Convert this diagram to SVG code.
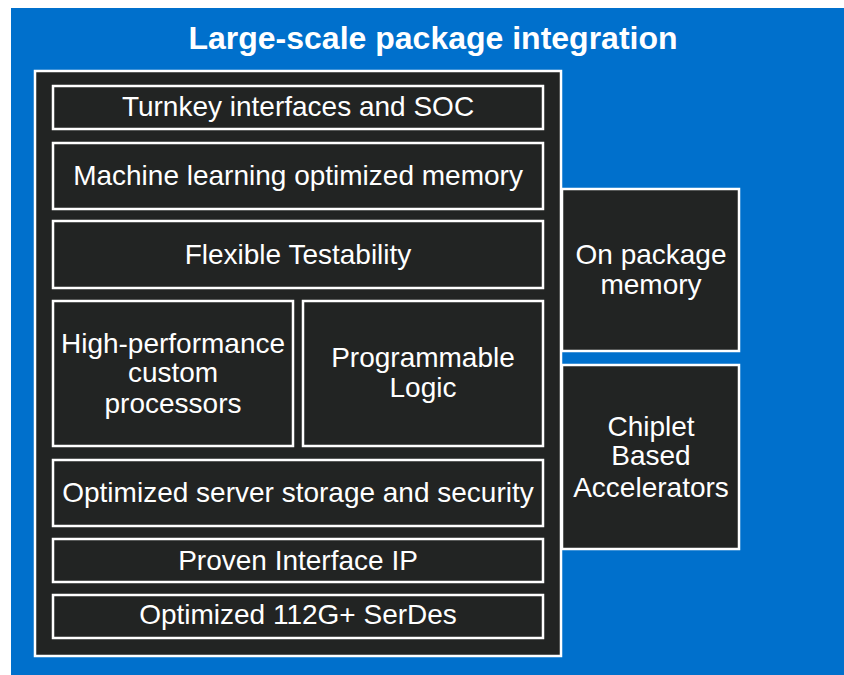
<svg xmlns="http://www.w3.org/2000/svg" width="844" height="675" viewBox="0 0 844 675">
<style>
.box{fill:#222423;stroke:#ffffff;stroke-width:2.5}
.t{font-family:"Liberation Sans",Arial,sans-serif;font-size:28px;fill:#ffffff;text-anchor:middle}
.title{font-family:"Liberation Sans",Arial,sans-serif;font-size:32px;font-weight:bold;fill:#ffffff;text-anchor:middle}
</style>
<rect x="0" y="0" width="844" height="675" fill="#ffffff"/>
<rect x="11" y="8" width="833" height="667" fill="#0070CC"/>
<text class="title" x="433" y="49">Large-scale package integration</text>
<g id="package">
<rect class="box" x="35" y="71" width="526" height="585"/>
</g>
<g id="turnkey"><rect class="box" x="53" y="86" width="490" height="43"/><text class="t" x="298" y="116">Turnkey interfaces and SOC</text></g>
<g id="ml-memory"><rect class="box" x="53" y="143" width="490" height="66"/><text class="t" x="298" y="185">Machine learning optimized memory</text></g>
<g id="testability"><rect class="box" x="53" y="221" width="490" height="67"/><text class="t" x="298" y="264">Flexible Testability</text></g>
<g id="processors"><rect class="box" x="53" y="301" width="240" height="145"/><text class="t" x="173" y="353">High-performance</text><text class="t" x="173" y="382">custom</text><text class="t" x="173" y="413">processors</text></g>
<g id="programmable"><rect class="box" x="303" y="301" width="240" height="145"/><text class="t" x="423" y="367">Programmable</text><text class="t" x="423" y="397">Logic</text></g>
<g id="storage"><rect class="box" x="53" y="460" width="490" height="66"/><text class="t" x="298" y="502">Optimized server storage and security</text></g>
<g id="interface-ip"><rect class="box" x="53" y="539" width="490" height="43"/><text class="t" x="298" y="570">Proven Interface IP</text></g>
<g id="serdes"><rect class="box" x="53" y="595" width="490" height="43"/><text class="t" x="298" y="624">Optimized 112G+ SerDes</text></g>
<g id="on-package-memory"><rect class="box" x="562" y="189" width="177" height="162"/><text class="t" x="651" y="264">On package</text><text class="t" x="651" y="294">memory</text></g>
<g id="chiplet"><rect class="box" x="562" y="365" width="177" height="184"/><text class="t" x="651" y="436">Chiplet</text><text class="t" x="651" y="465">Based</text><text class="t" x="651" y="497">Accelerators</text></g>
<g id="connectors"></g>
</svg>
